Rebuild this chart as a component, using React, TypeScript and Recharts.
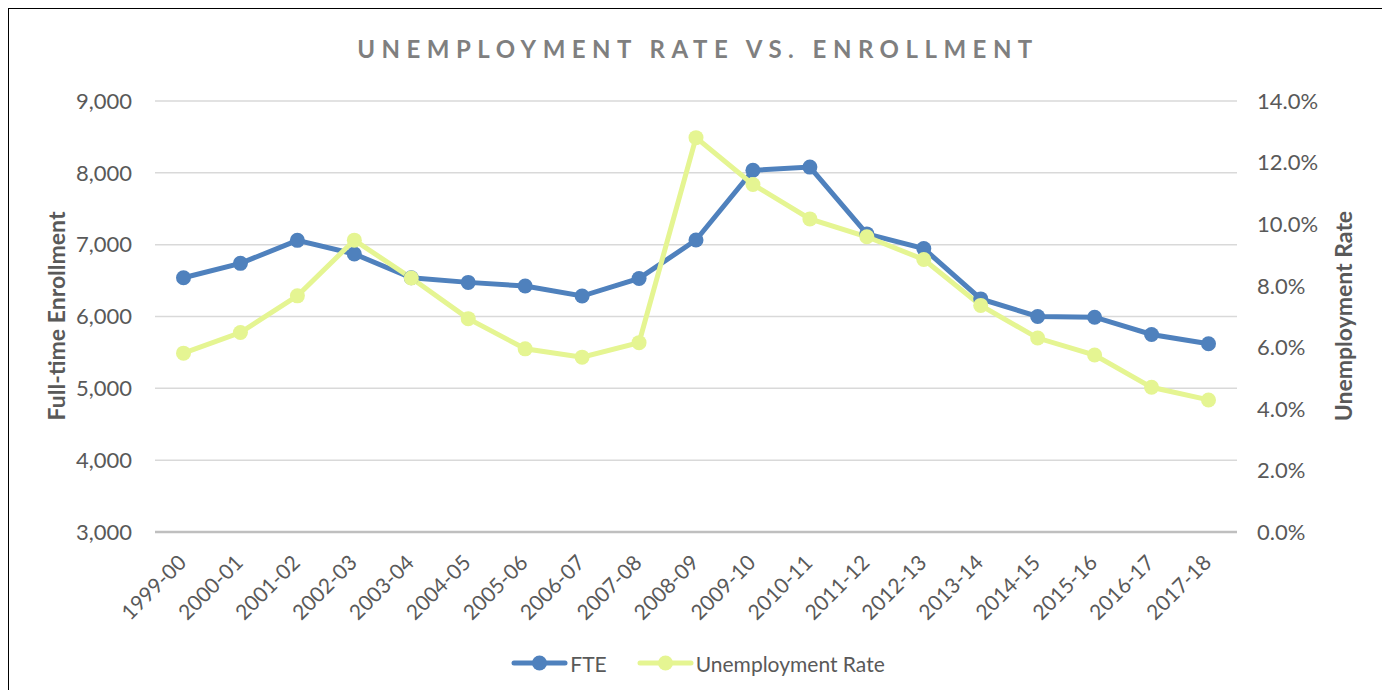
import React from 'react';
import { LineChart, Line, XAxis, YAxis, CartesianGrid, Legend } from 'recharts';

const categories = [
  '1999-00', '2000-01', '2001-02', '2002-03', '2003-04', '2004-05', '2005-06',
  '2006-07', '2007-08', '2008-09', '2009-10', '2010-11', '2011-12', '2012-13',
  '2013-14', '2014-15', '2015-16', '2016-17', '2017-18',
];
const fteValues = [
  6540, 6740, 7060, 6870, 6540, 6475, 6425, 6285, 6530, 7065, 8035, 8080, 7150,
  6945, 6245, 6000, 5990, 5750, 5620,
];
const unemploymentValues = [
  5.81, 6.48, 7.67, 9.48, 8.25, 6.93, 5.95, 5.68, 6.15, 12.81, 11.29, 10.17, 9.59,
  8.85, 7.36, 6.3, 5.75, 4.7, 4.29,
];
const leftTicks = [3000, 4000, 5000, 6000, 7000, 8000, 9000];
const rightTicks = [0, 2, 4, 6, 8, 10, 12, 14];

const TITLE = 'UNEMPLOYMENT RATE VS. ENROLLMENT';
const LEFT_TITLE = 'Full-time Enrollment';
const RIGHT_TITLE = 'Unemployment Rate';
const SERIES_NAMES = { fte: 'FTE', rate: 'Unemployment Rate' };

const data = categories.map((c, i) => ({
  year: c,
  fte: fteValues[i],
  rate: unemploymentValues[i],
}));

const FONT = 'Lato, "Open Sans", sans-serif';
const BLUE = '#4F81BD';
const LIME = '#E5F592';
const TEXT = '#595959';
const W = 1378;
const H = 681;

const XTick = (props: any) => {
  const { x, y, payload } = props;
  const ax = x + 4;
  const ay = y + 26;
  return (
    <text
      x={ax}
      y={ay}
      transform={`rotate(-45, ${ax}, ${ay})`}
      textAnchor="end"
      fill={TEXT}
      fontSize={21}
      fontFamily={FONT}
    >
      {payload.value}
    </text>
  );
};

const LegendSample = ({ color }: { color: string }) => (
  <svg width={57} height={20} style={{ display: 'block' }}>
    <line x1={3} y1={10} x2={54} y2={10} stroke={color} strokeWidth={5} strokeLinecap="round" />
    <circle cx={28.5} cy={10} r={7.5} fill={color} />
  </svg>
);

const renderLegend = () => (
  <div
    style={{
      display: 'flex',
      justifyContent: 'center',
      alignItems: 'center',
      height: 30,
      fontFamily: FONT,
      fontSize: 21,
      color: TEXT,
    }}
  >
    <div style={{ display: 'flex', alignItems: 'center', marginRight: 30 }}>
      <LegendSample color={BLUE} />
      <span style={{ marginLeft: 2 }}>{SERIES_NAMES.fte}</span>
    </div>
    <div style={{ display: 'flex', alignItems: 'center' }}>
      <LegendSample color={LIME} />
      <span style={{ marginLeft: 2 }}>{SERIES_NAMES.rate}</span>
    </div>
  </div>
);

export default function App() {
  return (
    <div
      style={{
        position: 'relative',
        width: W,
        height: H,
        border: '1px solid #000',
        borderBottom: 'none',
        background: '#fff',
      }}
    >
      <LineChart
        width={W}
        height={H}
        data={data}
        margin={{ top: 92, right: 0, bottom: 12, left: 0 }}
      >
        <CartesianGrid
          yAxisId="left"
          vertical={false}
          stroke="#D9D9D9"
          strokeWidth={1.5}
        />
        <XAxis
          dataKey="year"
          interval={0}
          height={116}
          tick={<XTick />}
          tickLine={false}
          tickMargin={0}
          axisLine={{ stroke: '#BFBFBF', strokeWidth: 2.5 }}
          padding={{ left: 28.5, right: 28.5 }}
        />
        <YAxis
          yAxisId="left"
          width={146}
          domain={[3000, 9000]}
          ticks={leftTicks}
          axisLine={false}
          tickLine={false}
          tickMargin={17}
          tick={{ fill: TEXT, fontSize: 22, fontFamily: FONT }}
          tickFormatter={(v: number) => v.toLocaleString('en-US')}
        />
        <YAxis
          yAxisId="right"
          orientation="right"
          width={150}
          domain={[0, 14]}
          ticks={rightTicks}
          axisLine={false}
          tickLine={false}
          tickMargin={14}
          tick={{ fill: TEXT, fontSize: 22, fontFamily: FONT, textAnchor: 'start' }}
          tickFormatter={(v: number) => `${v.toFixed(1)}%`}
        />
        <Legend verticalAlign="bottom" content={renderLegend} />
        <Line
          yAxisId="left"
          dataKey="fte"
          name={SERIES_NAMES.fte}
          stroke={BLUE}
          strokeWidth={5}
          dot={{ r: 7.5, fill: BLUE, stroke: BLUE, strokeWidth: 0 }}
          isAnimationActive={false}
        />
        <Line
          yAxisId="right"
          dataKey="rate"
          name={SERIES_NAMES.rate}
          stroke={LIME}
          strokeWidth={5}
          dot={{ r: 7.5, fill: LIME, stroke: LIME, strokeWidth: 0 }}
          isAnimationActive={false}
        />
      </LineChart>
      <svg
        width={W}
        height={H}
        style={{ position: 'absolute', left: 0, top: 0, pointerEvents: 'none' }}
      >
        <text
          x={W / 2}
          y={49}
          textAnchor="middle"
          fill="#7F7F7F"
          fontSize={24}
          fontWeight={700}
          fontFamily={FONT}
          letterSpacing={6.5}
        >
          {TITLE}
        </text>
        <text
          x={47}
          y={307}
          transform="rotate(-90, 47, 307)"
          textAnchor="middle"
          dominantBaseline="central"
          fill={TEXT}
          fontSize={23}
          fontWeight={700}
          fontFamily={FONT}
        >
          {LEFT_TITLE}
        </text>
        <text
          x={1334}
          y={307}
          transform="rotate(-90, 1334, 307)"
          textAnchor="middle"
          dominantBaseline="central"
          fill={TEXT}
          fontSize={23}
          fontWeight={700}
          fontFamily={FONT}
        >
          {RIGHT_TITLE}
        </text>
      </svg>
    </div>
  );
}
